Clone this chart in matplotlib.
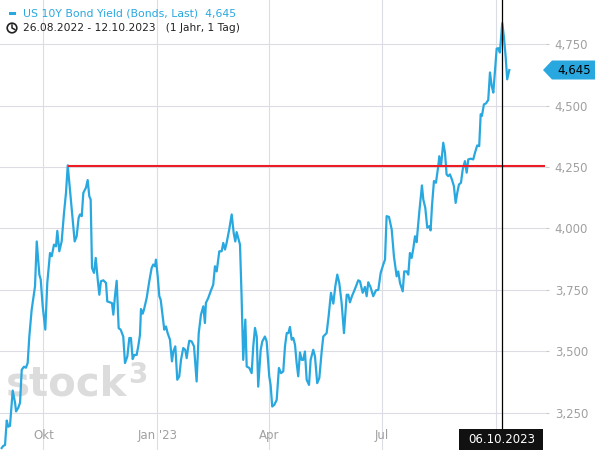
import datetime as dt
import numpy as np
import matplotlib
matplotlib.use('Agg')
import matplotlib.pyplot as plt
import matplotlib.dates as mdates
from matplotlib.patches import Polygon, Rectangle, Circle
from matplotlib.lines import Line2D
from matplotlib.transforms import IdentityTransform

## data
start = dt.date(2022, 8, 26)
days = [2.4, 3.7, 5.1, 6.5, 7.7, 9.1, 11.3, 13.2, 14.0, 15.8, 17.2, 18.6, 20.4, 22.0, 23.4,
        24.7, 26.6, 29.3, 30.7, 32.8, 33.9, 35.5, 37.6, 39.2, 41.4, 42.8, 44.6, 46.2, 47.3,
        48.9, 50.8, 52.7, 54.3, 55.7, 57.5, 59.7, 61.3, 62.9, 64.5, 65.6, 67.0, 68.3, 70.4,
        71.8, 73.1, 74.2, 75.3, 76.9, 78.3, 79.9, 81.2, 82.5, 84.4, 86.6, 87.6, 89.8, 91.4,
        92.5, 93.8, 95.2, 96.8, 98.4, 100.5, 101.9, 103.8, 105.4, 106.7, 108.1, 109.4, 111.3,
        112.6, 114.0, 114.8, 116.2, 117.2, 119.4, 121.5, 123.4, 124.7, 126.1, 126.9, 128.3,
        129.6, 130.7, 132.3, 133.6, 135.0, 136.3, 138.2, 139.8, 140.9, 142.5, 144.1, 145.7,
        147.1, 148.9, 150.5, 151.7, 153.0, 153.8, 155.7, 157.6, 159.7, 161.4, 163.2, 165.1,
        166.4, 167.2, 169.1, 171.0, 173.1, 174.5, 175.9, 178.0, 179.9, 181.2, 182.6, 183.9,
        186.0, 188.0, 189.6, 190.9, 192.0, 193.6, 194.7, 196.0, 197.3, 199.0, 200.1, 202.2,
        204.1, 205.4, 206.8, 208.2, 209.4, 211.4, 212.7, 214.8, 216.2, 218.3, 219.4, 220.7,
        222.4, 224.3, 226.1, 227.8, 229.6, 231.0, 232.4, 233.7, 235.0, 236.4, 237.7, 239.1,
        240.4, 241.7, 243.1, 244.5, 245.7, 247.1, 248.5, 250.4, 251.7, 253.8, 255.2, 257.0,
        258.7, 260.6, 261.9, 264.6, 266.2, 268.1, 270.0, 271.6, 273.2, 274.8, 276.7, 278.6,
        280.8, 282.1, 283.4, 285.0, 286.7, 288.8, 290.1, 291.5, 293.7, 295.5, 296.9, 298.2,
        300.1, 302.2, 304.4, 306.3, 308.2, 310.3, 311.7, 313.0, 314.9, 317.1, 318.9, 321.1,
        322.4, 323.8, 326.0, 327.2, 329.2, 330.5, 331.8, 333.2, 334.5, 335.9, 337.2, 339.3,
        341.5, 342.6, 344.2, 345.8, 347.4, 348.5, 349.6, 351.2, 352.8, 354.7, 355.5, 356.9,
        358.7, 360.1, 361.4, 362.7, 364.1, 365.7, 367.3, 368.7, 370.0, 371.4, 373.0, 374.4,
        376.2, 377.6, 378.9, 380.8, 382.9, 384.3, 386.1, 387.7, 388.9, 389.9, 391.5, 393.2,
        395.0, 396.4, 397.8, 399.1, 400.4, 401.8, 403.1, 404.4, 406.3, 407.7, 409.1, 410.3,
        412.0]
yields = [3.106, 3.115, 3.118, 3.218, 3.193, 3.196, 3.340, 3.290, 3.255, 3.270, 3.290, 3.425,
          3.437, 3.433, 3.453, 3.560, 3.669, 3.764, 3.947, 3.812, 3.792, 3.683, 3.588, 3.778,
          3.900, 3.887, 3.934, 3.927, 3.990, 3.907, 3.947, 4.063, 4.145, 4.257, 4.159, 4.036,
          3.947, 3.968, 4.043, 4.057, 4.050, 4.145, 4.166, 4.197, 4.131, 4.118, 3.839, 3.819,
          3.880, 3.792, 3.730, 3.785, 3.789, 3.778, 3.703, 3.699, 3.696, 3.649, 3.724, 3.787,
          3.594, 3.588, 3.560, 3.452, 3.479, 3.554, 3.554, 3.468, 3.485, 3.485, 3.520, 3.567,
          3.672, 3.653, 3.669, 3.717, 3.785, 3.839, 3.853, 3.846, 3.873, 3.805, 3.724, 3.710,
          3.642, 3.588, 3.601, 3.574, 3.547, 3.459, 3.499, 3.520, 3.384, 3.398, 3.465, 3.513,
          3.506, 3.472, 3.520, 3.543, 3.540, 3.520, 3.377, 3.574, 3.649, 3.683, 3.615, 3.697,
          3.717, 3.744, 3.771, 3.846, 3.825, 3.907, 3.907, 3.941, 3.914, 3.941, 3.996, 4.057,
          3.982, 3.947, 3.985, 3.955, 3.934, 3.720, 3.465, 3.629, 3.438, 3.432, 3.411, 3.520,
          3.595, 3.560, 3.356, 3.506, 3.540, 3.560, 3.540, 3.398, 3.363, 3.275, 3.282, 3.302,
          3.432, 3.411, 3.418, 3.520, 3.574, 3.574, 3.599, 3.547, 3.554, 3.526, 3.452, 3.398,
          3.495, 3.465, 3.465, 3.499, 3.384, 3.363, 3.465, 3.506, 3.479, 3.370, 3.391, 3.499,
          3.560, 3.574, 3.642, 3.738, 3.694, 3.764, 3.812, 3.778, 3.697, 3.574, 3.730, 3.730,
          3.699, 3.724, 3.744, 3.771, 3.789, 3.785, 3.738, 3.762, 3.724, 3.781, 3.760, 3.724,
          3.748, 3.750, 3.819, 3.853, 3.873, 4.050, 4.047, 3.996, 3.887, 3.805, 3.825, 3.778,
          3.744, 3.825, 3.825, 3.812, 3.900, 3.880, 3.917, 3.968, 3.944, 4.063, 4.175, 4.118,
          4.084, 4.003, 4.009, 3.992, 4.091, 4.193, 4.186, 4.254, 4.294, 4.254, 4.349, 4.308,
          4.220, 4.213, 4.220, 4.199, 4.172, 4.104, 4.145, 4.179, 4.186, 4.240, 4.274, 4.227,
          4.281, 4.284, 4.281, 4.308, 4.338, 4.335, 4.465, 4.458, 4.505, 4.509, 4.523, 4.635,
          4.580, 4.553, 4.641, 4.732, 4.734, 4.716, 4.836, 4.777, 4.696, 4.607, 4.645]

ref_level = 4.255
cursor_date = dt.date(2023, 10, 6)
ytick_vals = [3.25, 3.5, 3.75, 4.0, 4.25, 4.5, 4.75]
xtick_dates = [dt.date(2022, 10, 1), dt.date(2023, 1, 1), dt.date(2023, 4, 1),
               dt.date(2023, 7, 1), dt.date(2023, 10, 1)]
xtick_labels = ['Okt', "Jan '23", 'Apr', 'Jul', '']
title = 'US 10Y Bond Yield (Bonds, Last)  4,645'
period = '26.08.2022 - 12.10.2023   (1 Jahr, 1 Tag)'

blue = '#29a8e0'
grid_c = '#dcdce4'
W, H = 595, 450

## figure
fig = plt.figure(figsize=(W / 100, H / 100), dpi=100)
ax = fig.add_axes([0, 0, 545 / W, 1])
t0 = mdates.date2num(start)
x = t0 + np.array(days)
y = np.array(yields)

ax.plot(x, y, color=blue, lw=1.6, zorder=3)

# horizontal line from the Oct 2022 high
first = np.array(days) < 100
peak_x = x[first][np.argmax(y[first])]
ax.hlines(ref_level, peak_x, t0 + 440.8, color='#ee1c25', lw=1.5, zorder=4)

cx = mdates.date2num(cursor_date)
ax.axvline(cx, color='black', lw=0.9, zorder=5)

ax.set_xlim(t0 + 1.05, t0 + 440.8)
ax.set_ylim(3.098, 4.930)

ax.set_xticks([mdates.date2num(d) for d in xtick_dates])
ax.set_xticklabels(xtick_labels)
ax.set_yticks(ytick_vals)
ax.set_yticklabels([f'{v:.3f}'.replace('.', ',') for v in ytick_vals])
ax.yaxis.tick_right()
ax.tick_params(axis='y', length=3, color='#cccccc', labelcolor='#a0a0a0',
               labelsize=8.5, pad=4)
ax.tick_params(axis='x', length=0, labelcolor='#a0a0a0', labelsize=8.5, pad=-15)
ax.grid(True, color=grid_c, lw=0.8)
ax.set_axisbelow(True)
for s in ax.spines.values():
    s.set_visible(False)

# watermark
ax.text(6 / 545, 55 / H, 'stock', transform=ax.transAxes, fontsize=29,
        fontweight='bold', color='#dcdcdc', va='baseline', ha='left', zorder=1)
ax.text(128 / 545, 1 - 361 / H, '3', transform=ax.transAxes, fontsize=20,
        fontweight='bold', color='#dcdcdc', va='top', ha='left', zorder=1)

# header
fig.add_artist(Rectangle((9, H - 14.5), 7, 3, transform=IdentityTransform(),
                         color=blue, lw=0))
fig.text(23 / W, 1 - 13 / H, title, color=blue, fontsize=7.8, va='center', ha='left')
fig.add_artist(Circle((12, H - 28), 4.8, transform=IdentityTransform(),
                      fill=False, ec='#222222', lw=1.2))
fig.add_artist(Line2D([12, 12, 14.8], [H - 25, H - 28, H - 29.5],
                      transform=IdentityTransform(), color='#222222', lw=1.1))
fig.text(23 / W, 1 - 28 / H, period, color='#222222', fontsize=7.7, va='center', ha='left')

# last value tag
fig.canvas.draw()
yc = ax.transData.transform((cx, yields[-1]))[1]
fig.add_artist(Polygon([(543, yc), (552, yc + 9.5), (W, yc + 9.5), (W, yc - 9.5),
                        (552, yc - 9.5)], closed=True, transform=IdentityTransform(),
                       color=blue, lw=0))
fig.text(574 / W, yc / H, f'{yields[-1]:.3f}'.replace('.', ','), color='black',
         fontsize=8.5, va='center', ha='center')

# cursor date tag
px = ax.transData.transform((cx, 4.0))[0]
fig.add_artist(Rectangle((459, 0), 84, 21, transform=IdentityTransform(),
                         color='#111111', lw=0))
fig.text(px / W, 10.5 / H, cursor_date.strftime('%d.%m.%Y'), color='white',
         fontsize=8.5, va='center', ha='center')

fig.savefig('out.png', dpi=100)
